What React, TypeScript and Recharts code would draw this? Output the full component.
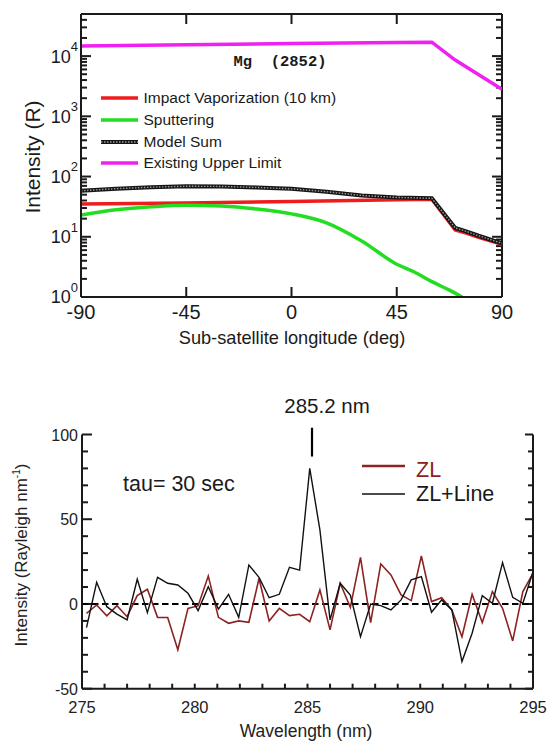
import React from 'react';
import { LineChart, Line, XAxis, YAxis, ReferenceLine } from 'recharts';

const FONT = '"Liberation Sans", Arial, Helvetica, sans-serif';
const INK = '#1a1a1a';

// ---- top panel: Mg (2852) model intensities vs sub-satellite longitude
const LON_IMPACT = [-90, -45, 0, 45, 60, 70, 75, 80, 90];
const IMPACT = [35, 36.5, 38.5, 41, 42, 13, 11.4, 9.8, 7.5];
const LON_SPUTTER = [-90, -75, -60, -45, -30, -15, 0, 15, 30, 45, 52.5, 60, 67.5, 73];
const SPUTTER = [23, 28, 31.5, 33.5, 32.5, 29, 24, 17, 8.5, 3.5, 2.6, 1.8, 1.3, 1.0];
const LON_SUM = [-90, -75, -60, -45, -30, -15, 0, 15, 30, 45, 60, 70, 75, 80, 90];
const MODEL_SUM = [58, 63, 66.5, 69, 68.5, 66, 62.5, 56, 48.5, 45, 43.5, 14, 12.2, 10.4, 7.8];
const LON_LIMIT = [-90, -45, 0, 45, 60, 70, 90];
const UPPER_LIMIT = [14700, 15400, 16200, 16800, 17000, 8600, 2800];

const LON_TICKS = [-90, -45, 0, 45, 90];
const LON_INNER = [-45, 0, 45];
const LOG_MAJOR = [1, 10, 100, 1000, 10000];
const LOG_MINOR = [
  2, 3, 4, 5, 6, 7, 8, 9,
  20, 30, 40, 50, 60, 70, 80, 90,
  200, 300, 400, 500, 600, 700, 800, 900,
  2000, 3000, 4000, 5000, 6000, 7000, 8000, 9000,
  20000, 30000, 40000,
];
const LOG_TOP = 50000;

// ---- bottom panel: spectrum around 285.2 nm
const WAVELENGTH = [
  275.2, 275.65, 276.1, 276.55, 277.0, 277.45, 277.9, 278.35, 278.8, 279.25,
  279.7, 280.15, 280.6, 281.05, 281.5, 281.95, 282.4, 282.85, 283.3, 283.75,
  284.2, 284.65, 285.1, 285.55, 286.0, 286.45, 286.9, 287.35, 287.8, 288.25,
  288.7, 289.15, 289.6, 290.05, 290.5, 290.95, 291.4, 291.85, 292.3, 292.75,
  293.2, 293.65, 294.1, 294.55, 295.0,
];
const ZL = [
  -5.5, -0.6, -7, -1, -7.5, 4.9, 8.7, -7.9, -8, -27,
  -2.6, -1, 16.5, -7.9, -11.4, -10, -10.8, 15, -10, -2.6,
  -6.9, -6.1, -10.5, 8.3, -15.3, 12.2, -2, 27.5, -11, 23.6,
  17.1, 5.3, 2, 28.3, 1.4, 3.7, -3.5, -19.3, 5.7, -11,
  7.3, -2.6, -21.8, 7.3, 18,
];
const ZL_LINE = [
  -14, 12.8, -1.6, -6, -9.4, 14.6, -5.1, 15.7, 12.2, 11.2,
  6.3, -3.9, 10.2, -3, 5.7, -7.9, 23, 15.7, 3.7, 5.7,
  21.6, 20, 80, 43.7, -9.4, 12.2, 5.3, -19.3, 0, -1,
  -3.5, 2.4, 14.2, 16.1, -4.9, 2.4, -3.5, -34, -17.3, 4.9,
  0.4, 24.4, 3.9, 0.4, 19,
];
const WL_LABELS = [275, 280, 285, 290, 295];
const WL_MINOR = [276, 277, 278, 279, 280, 281, 282, 283, 284, 285, 286, 287, 288, 289, 290, 291, 292, 293, 294];
const INT_MAJOR = [-50, 0, 50, 100];
const INT_MINOR = [-40, -30, -20, -10, 10, 20, 30, 40, 60, 70, 80, 90];
const LINE_MARK = 285.2;

const series = (xs: number[], ys: number[]) => xs.map((lon, i) => ({ lon, v: ys[i] }));
const spectrum = WAVELENGTH.map((w, i) => ({ w, zl: ZL[i], zll: ZL_LINE[i] }));

const frame = { stroke: INK, strokeWidth: 2 };
const TICK_W = 2;

// inward tick marks, drawn off a reference line's endpoints
const hTicks = (left: number, right: number) => (p: any) => {
  const xa = Math.min(Number(p.x1), Number(p.x2));
  const xb = Math.max(Number(p.x1), Number(p.x2));
  const y = Number(p.y1);
  return (
    <g>
      {left > 0 && <line x1={xa} x2={xa + left} y1={y} y2={y} stroke={INK} strokeWidth={TICK_W} />}
      {right > 0 && <line x1={xb} x2={xb - right} y1={y} y2={y} stroke={INK} strokeWidth={TICK_W} />}
    </g>
  );
};
const vTicks = (bottom: number, top: number) => (p: any) => {
  const ya = Math.min(Number(p.y1), Number(p.y2));
  const yb = Math.max(Number(p.y1), Number(p.y2));
  const x = Number(p.x1);
  return (
    <g>
      {bottom > 0 && <line x1={x} x2={x} y1={yb} y2={yb - bottom} stroke={INK} strokeWidth={TICK_W} />}
      {top > 0 && <line x1={x} x2={x} y1={ya} y2={ya + top} stroke={INK} strokeWidth={TICK_W} />}
    </g>
  );
};

function DecadeLabel(props: any) {
  const { x, y, payload } = props;
  return (
    <text x={Number(x) - 3} y={y} textAnchor="end" fill={INK}>
      <tspan dy="0.36em" fontSize={18}>10</tspan>
      <tspan dy="-0.9em" fontSize={13}>{Math.round(Math.log10(payload.value))}</tspan>
    </text>
  );
}

function LonLabel(props: any) {
  const { x, y, payload } = props;
  return (
    <text x={x} y={Number(y) + 17} textAnchor="middle" dominantBaseline="middle" fontSize={20} fill={INK}>
      {payload.value}
    </text>
  );
}

function WlLabel(props: any) {
  const { x, y, payload } = props;
  return (
    <text x={x} y={Number(y) + 20} textAnchor="middle" dominantBaseline="middle" fontSize={16.5} fill="#222">
      {payload.value}
    </text>
  );
}

function IntLabel(props: any) {
  const { x, y, payload } = props;
  return (
    <text x={Number(x) - 4} y={Number(y) + 2} textAnchor="end" dominantBaseline="middle" fontSize={16} fill="#222">
      {payload.value}
    </text>
  );
}

const abs = (left: number, top: number, extra: React.CSSProperties = {}): React.CSSProperties => ({
  position: 'absolute',
  left,
  top,
  whiteSpace: 'nowrap',
  lineHeight: 1,
  color: INK,
  ...extra,
});

function Swatch({ color, width = 37, thick = 3.5, hatched = false }: { color: string; width?: number; thick?: number; hatched?: boolean }) {
  return (
    <svg width={width} height={8} style={{ display: 'block' }}>
      <line x1={0} x2={width} y1={4} y2={4} stroke={color} strokeWidth={thick} />
      {hatched && <line x1={0} x2={width} y1={4} y2={4} stroke="#9a9a9a" strokeWidth={1.4} strokeDasharray="1.5 1.5" />}
    </svg>
  );
}

const TOP_LEGEND = [
  { label: 'Impact Vaporization (10 km)', color: '#ee1c1c', y: 98 },
  { label: 'Sputtering', color: '#22dd22', y: 119.5 },
  { label: 'Model Sum', color: '#151515', y: 141.5, hatched: true },
  { label: 'Existing Upper Limit', color: '#f020f0', y: 163 },
];

export default function App() {
  return (
    <div style={{ position: 'absolute', left: 0, top: 0, width: 548, height: 742, background: '#fff', fontFamily: FONT }}>
      {/* top panel */}
      <div style={{ position: 'absolute', left: 0, top: 0, width: 548, height: 370 }}>
        <LineChart width={548} height={370} margin={{ top: 14, right: 46, left: 21, bottom: 43 }}>
          <XAxis
            type="number"
            dataKey="lon"
            domain={[-90, 90]}
            ticks={LON_TICKS}
            interval={0}
            height={30}
            tickSize={0}
            tickMargin={0}
            tickLine={false}
            axisLine={frame}
            tick={(p: any) => <LonLabel {...p} />}
            allowDataOverflow
          />
          <YAxis
            scale="log"
            domain={[1, LOG_TOP]}
            ticks={LOG_MAJOR}
            interval={0}
            width={60}
            tickSize={0}
            tickMargin={0}
            tickLine={false}
            axisLine={frame}
            tick={(p: any) => <DecadeLabel {...p} />}
            allowDataOverflow
          />
          <ReferenceLine y={LOG_TOP} stroke={INK} strokeWidth={2} ifOverflow="visible" />
          <ReferenceLine x={90} stroke={INK} strokeWidth={2} ifOverflow="visible" />
          {LOG_MAJOR.map((v) => (
            <ReferenceLine key={`M${v}`} y={v} shape={hTicks(10, 10)} ifOverflow="visible" />
          ))}
          {LOG_MINOR.map((v) => (
            <ReferenceLine key={`m${v}`} y={v} shape={hTicks(6, 6)} ifOverflow="visible" />
          ))}
          {LON_INNER.map((v) => (
            <ReferenceLine key={`x${v}`} x={v} shape={vTicks(10, 10)} ifOverflow="visible" />
          ))}
          <Line data={series(LON_LIMIT, UPPER_LIMIT)} dataKey="v" stroke="#f020f0" strokeWidth={3.5} dot={false} isAnimationActive={false} />
          <Line data={series(LON_IMPACT, IMPACT)} dataKey="v" stroke="#ee1c1c" strokeWidth={3.5} dot={false} isAnimationActive={false} />
          <Line type="monotone" data={series(LON_SPUTTER, SPUTTER)} dataKey="v" stroke="#22dd22" strokeWidth={3.5} dot={false} isAnimationActive={false} />
          <Line data={series(LON_SUM, MODEL_SUM)} dataKey="v" stroke="#151515" strokeWidth={4} dot={false} isAnimationActive={false} />
          <Line data={series(LON_SUM, MODEL_SUM)} dataKey="v" stroke="#9a9a9a" strokeWidth={1.4} strokeDasharray="1.5 1.5" dot={false} isAnimationActive={false} />
        </LineChart>

        <div style={abs(280, 63, { transform: 'translate(-50%, -50%)', fontFamily: '"Liberation Mono", "Courier New", monospace', fontWeight: 'bold', fontSize: 15.5, whiteSpace: 'pre' })}>
          {'Mg  (2852)'}
        </div>
        {TOP_LEGEND.map((e) => (
          <React.Fragment key={e.label}>
            <div style={abs(101, e.y - 4)}>
              <Swatch color={e.color} hatched={e.hatched} thick={e.hatched ? 4 : 3.5} />
            </div>
            <div style={abs(143.5, e.y, { transform: 'translateY(-50%)', fontSize: 15.5 })}>{e.label}</div>
          </React.Fragment>
        ))}
        <div style={abs(31.5, 157, { transform: 'translate(-50%, -50%) rotate(-90deg)', fontSize: 21 })}>Intensity (R)</div>
        <div style={abs(292, 338, { transform: 'translate(-50%, -50%)', fontSize: 18.2 })}>Sub-satellite longitude (deg)</div>
      </div>

      {/* bottom panel */}
      <div style={{ position: 'absolute', left: 0, top: 380, width: 548, height: 362 }}>
        <LineChart width={548} height={362} data={spectrum} margin={{ top: 54.5, right: 15, left: 22, bottom: 23.3 }}>
          <XAxis
            type="number"
            dataKey="w"
            domain={[275, 295]}
            ticks={WL_LABELS}
            interval={0}
            height={30}
            tickSize={0}
            tickMargin={0}
            tickLine={false}
            axisLine={frame}
            tick={(p: any) => <WlLabel {...p} />}
            allowDataOverflow
          />
          <YAxis
            type="number"
            domain={[-50, 100]}
            ticks={INT_MAJOR}
            interval={0}
            width={60}
            tickSize={0}
            tickMargin={0}
            tickLine={false}
            axisLine={frame}
            tick={(p: any) => <IntLabel {...p} />}
            allowDataOverflow
          />
          <ReferenceLine x={295} stroke={INK} strokeWidth={2} ifOverflow="visible" />
          {INT_MAJOR.map((v) => (
            <ReferenceLine key={`M${v}`} y={v} shape={hTicks(10, 8)} ifOverflow="visible" />
          ))}
          {INT_MINOR.map((v) => (
            <ReferenceLine key={`m${v}`} y={v} shape={hTicks(6, 5)} ifOverflow="visible" />
          ))}
          {WL_MINOR.map((v) => (
            <ReferenceLine key={`x${v}`} x={v} shape={vTicks(5, 0)} ifOverflow="visible" />
          ))}
          <ReferenceLine y={0} stroke="#000" strokeWidth={2} strokeDasharray="6.5 3.5" />
          <ReferenceLine
            segment={[{ x: LINE_MARK, y: 87 }, { x: LINE_MARK, y: 104 }]}
            stroke="#000"
            strokeWidth={2.2}
            ifOverflow="visible"
          />
          <Line dataKey="zl" stroke="#8b2323" strokeWidth={1.6} dot={false} isAnimationActive={false} />
          <Line dataKey="zll" stroke="#111" strokeWidth={1.4} dot={false} isAnimationActive={false} />
        </LineChart>

        <div style={abs(327, 26, { transform: 'translate(-50%, -50%)', fontSize: 20.5 })}>285.2 nm</div>
        <div style={abs(123, 105, { transform: 'translateY(-50%)', fontSize: 21.5 })}>tau= 30 sec</div>
        <div style={abs(362, 82)}>
          <Swatch color="#8b2323" width={43} thick={2.4} />
        </div>
        <div style={abs(416, 91, { transform: 'translateY(-50%)', fontSize: 21.5, color: '#8b2323' })}>ZL</div>
        <div style={abs(362, 110)}>
          <Swatch color="#111" width={43} thick={1.3} />
        </div>
        <div style={abs(416, 115, { transform: 'translateY(-50%)', fontSize: 21.5 })}>ZL+Line</div>
        <div style={abs(21, 175, { transform: 'translate(-50%, -50%) rotate(-90deg)', fontSize: 17, color: '#222' })}>
          Intensity (Rayleigh nm<sup style={{ fontSize: 10 }}>-1</sup>)
        </div>
        <div style={abs(306, 351.5, { transform: 'translate(-50%, -50%)', fontSize: 17.5, color: '#222' })}>Wavelength (nm)</div>
      </div>
    </div>
  );
}
